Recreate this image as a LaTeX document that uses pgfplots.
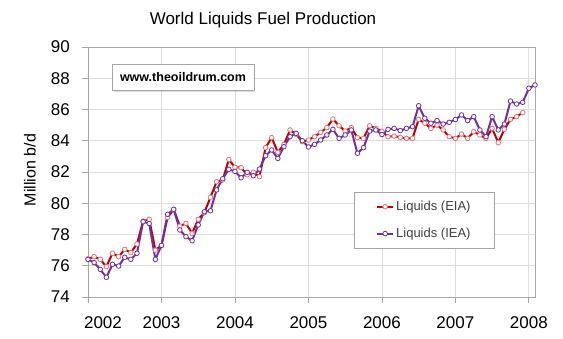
\documentclass[border=0pt]{standalone}
\usepackage{fontspec}
\setmainfont{Liberation Sans}
\usepackage{pgfplots}
\pgfplotsset{compat=1.18}
\usetikzlibrary{shadows}
\definecolor{eiared}{HTML}{C00000}
\definecolor{eiamark}{HTML}{F07070}
\definecolor{ieapurple}{HTML}{7030A0}
\definecolor{gridgray}{HTML}{DDDDDD}
\definecolor{axgray}{HTML}{A6A6A6}
\definecolor{txtgray}{HTML}{404040}
\begin{document}
\begin{tikzpicture}[x=1pt,y=1pt]
\path[use as bounding box] (0,0) rectangle (563,339);
\begin{axis}[
  at={(88pt,42pt)}, anchor=south west,
  scale only axis, width=447pt, height=250pt,
  xmin=0, xmax=73, ymin=74, ymax=90,
  xtick={0,12,24,36,48,60,72},
  xticklabels={\hspace*{30pt}2002,2003,2004,2005,2006,2007,2008},
  ytick={74,76,...,90},
  grid=major, major grid style={gridgray, line width=0.8pt},
  axis line style={axgray, line width=0.8pt},
  tick align=outside, xtick pos=bottom, ytick pos=left,
  major tick length=6pt, tick style={axgray, line width=0.8pt},
  ticklabel style={font=\fontsize{17}{20}\selectfont, inner sep=0pt},
  /pgf/number format/assume math mode=true,
  yticklabel style={anchor=east, xshift=-12pt},
  xticklabel style={anchor=north, yshift=-13pt},
  legend style={at={(0.595,0.42)}, anchor=north west, draw=axgray,
    font=\fontsize{13}{15}\selectfont, text=txtgray,
    inner xsep=22pt, inner ysep=7pt, row sep=12pt},
  legend cell align=left,
  legend image code/.code={\draw[#1, mark repeat=2, mark phase=2] plot coordinates {(0pt,0pt) (8pt,0pt) (16pt,0pt)};},
]
\addplot[eiared, line width=2pt, mark=*, mark size=2.3pt, mark options={fill=white, draw=eiamark, line width=0.8pt}] coordinates {
(0,76.44)(1,76.58)(2,76.41)(3,75.94)(4,76.8)(5,76.58)(6,77.05)(7,76.84)(8,77.39)(9,78.86)(10,78.97)(11,77.0)
(12,77.3)(13,79.1)(14,79.6)(15,78.54)(16,78.71)(17,78.07)(18,78.97)(19,79.4)(20,80.38)(21,81.38)(22,81.49)(23,82.8)
(24,82.3)(25,82.28)(26,81.82)(27,81.98)(28,81.7)(29,83.56)(30,84.2)(31,83.26)(32,83.77)(33,84.69)(34,84.41)(35,83.94)
(36,84.05)(37,84.26)(38,84.54)(39,84.84)(40,85.39)(41,84.96)(42,84.62)(43,84.84)(44,84.2)(45,84.15)(46,84.96)(47,84.79)
(48,84.6)(49,84.26)(50,84.3)(51,84.22)(52,84.15)(53,84.15)(54,85.37)(55,85.12)(56,84.79)(57,85.0)(58,84.69)(59,84.26)
(60,84.15)(61,84.43)(62,84.15)(63,84.58)(64,84.37)(65,84.15)(66,84.79)(67,83.88)(68,84.73)(69,85.37)(70,85.54)(71,85.8)
};
\addlegendentry{Liquids (EIA)}
\addplot[ieapurple, line width=2pt, mark=*, mark size=2.3pt, mark options={fill=white, draw=ieapurple, line width=0.8pt}] coordinates {
(0,76.41)(1,76.2)(2,75.77)(3,75.26)(4,76.09)(5,75.98)(6,76.54)(7,76.41)(8,76.8)(9,78.82)(10,78.7)(11,76.41)
(12,77.3)(13,79.29)(14,79.61)(15,78.29)(16,77.86)(17,77.6)(18,78.61)(19,79.46)(20,79.52)(21,80.85)(22,81.57)(23,82.17)
(24,82.04)(25,81.63)(26,81.98)(27,81.76)(28,82.19)(29,83.04)(30,83.41)(31,82.87)(32,83.62)(33,84.26)(34,84.47)(35,84.0)
(36,83.6)(37,83.77)(38,84.05)(39,84.37)(40,84.73)(41,84.15)(42,84.37)(43,84.69)(44,83.2)(45,83.56)(46,84.62)(47,84.69)
(48,84.4)(49,84.73)(50,84.79)(51,84.65)(52,84.79)(53,84.9)(54,86.24)(55,85.44)(56,85.12)(57,85.29)(58,85.07)(59,85.18)
(60,85.36)(61,85.65)(62,85.29)(63,85.54)(64,84.69)(65,84.26)(66,85.54)(67,84.69)(68,85.07)(69,86.54)(70,86.35)(71,86.46)
(72,87.36)(73,87.57)
};
\addlegendentry{Liquids (IEA)}
\node[draw=axgray, fill=white, drop shadow={opacity=0.25, shadow xshift=1.5pt, shadow yshift=-1.5pt},
  font=\bfseries\fontsize{12.5}{15}\selectfont, inner xsep=8pt, minimum height=26pt]
  at (rel axis cs:0.2125,0.878) {www.theoildrum.com};
\end{axis}
\node[font=\fontsize{17}{20}\selectfont] at (263,319) {World Liquids Fuel Production};
\node[rotate=90, font=\fontsize{16}{19}\selectfont] at (30,169) {Million b/d};
\end{tikzpicture}
\end{document}
